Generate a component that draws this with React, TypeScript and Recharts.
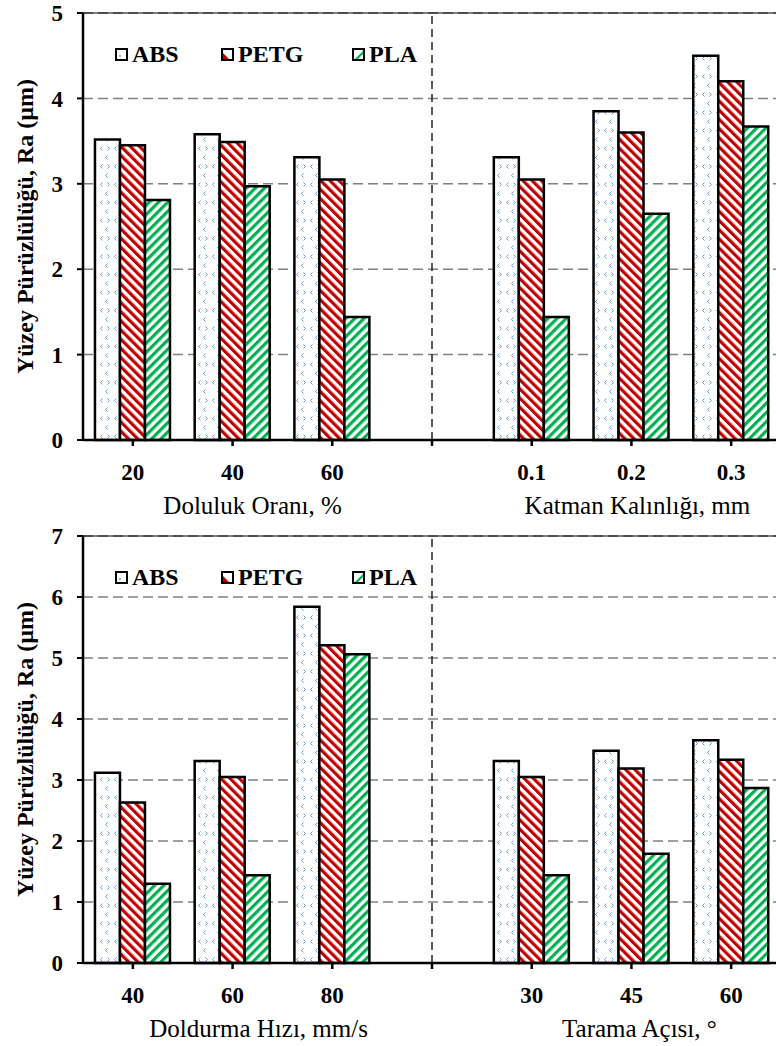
import React from 'react';
import { BarChart, Bar, XAxis, YAxis, CartesianGrid, ReferenceLine, Label } from 'recharts';

const FONT = '"Liberation Serif", "Times New Roman", serif';

const seriesNames = ['ABS', 'PETG', 'PLA'];
const yTitle = 'Yüzey Pürüzlülüğü, Ra (µm)';

// üst panel: doluluk oranı + katman kalınlığı
const topCategories = ['20', '40', '60', '', '0.1', '0.2', '0.3'];
const topGroups = ['Doluluk Oranı, %', 'Katman Kalınlığı, mm'];
const topAbs = [3.52, 3.58, 3.31, null, 3.31, 3.85, 4.5];
const topPetg = [3.45, 3.49, 3.05, null, 3.05, 3.6, 4.2];
const topPla = [2.81, 2.97, 1.44, null, 1.44, 2.65, 3.67];
const topTicks = [0, 1, 2, 3, 4, 5];

// alt panel: doldurma hızı + tarama açısı
const bottomCategories = ['40', '60', '80', '', '30', '45', '60'];
const bottomGroups = ['Doldurma Hızı, mm/s', 'Tarama Açısı, °'];
const bottomAbs = [3.12, 3.31, 5.84, null, 3.31, 3.48, 3.65];
const bottomPetg = [2.63, 3.05, 5.21, null, 3.05, 3.19, 3.33];
const bottomPla = [1.3, 1.44, 5.06, null, 1.44, 1.79, 2.87];
const bottomTicks = [0, 1, 2, 3, 4, 5, 6, 7];

const buildRows = (cats: string[], abs: (number | null)[], petg: (number | null)[], pla: (number | null)[]) =>
  cats.map((label, i) => ({ key: `c${i}`, label, ABS: abs[i], PETG: petg[i], PLA: pla[i] }));

const Patterns = () => (
  <svg width={0} height={0} style={{ position: 'absolute' }}>
    <defs>
      <pattern id="absPat" patternUnits="userSpaceOnUse" width={14} height={18}>
        <rect width={14} height={18} fill="#fff" />
        <polyline points="4.5,2.5 2.5,4.5 4.5,6.5" fill="none" stroke="#5b9bd5" strokeWidth={1} />
        <polyline points="9.5,2.5 11.5,4.5 9.5,6.5" fill="none" stroke="#5b9bd5" strokeWidth={1} />
        <polyline points="9.5,11.5 7.5,13.5 9.5,15.5" fill="none" stroke="#5b9bd5" strokeWidth={1} />
      </pattern>
      <pattern id="petgPat" patternUnits="userSpaceOnUse" width={6.5} height={6.5} patternTransform="rotate(-45)">
        <rect width={6.5} height={6.5} fill="#fff" />
        <rect width={3.2} height={6.5} fill="#c00000" />
      </pattern>
      <pattern id="plaPat" patternUnits="userSpaceOnUse" width={6.5} height={6.5} patternTransform="rotate(45)">
        <rect width={6.5} height={6.5} fill="#fff" />
        <rect width={3.2} height={6.5} fill="#00b050" />
      </pattern>
    </defs>
  </svg>
);

const Swatch = ({ name }: { name: string }) => (
  <svg width={13} height={13} style={{ display: 'block' }}>
    <rect x={1} y={1} width={11} height={11} fill="#fff" />
    {name === 'ABS' && <circle cx={5} cy={8} r={1} fill="#5b9bd5" />}
    {name === 'PETG' && <polygon points="1,4 1,12 9,12" fill="#c00000" />}
    {name === 'PLA' && <polygon points="2,12 5,12 12,5 12,2" fill="#00b050" />}
    <rect x={1} y={1} width={11} height={11} fill="none" stroke="#000" strokeWidth={2} />
  </svg>
);

const legendLeft = [115, 221, 352];

const LegendBox = ({ top }: { top: number }) => (
  <>
    {seriesNames.map((n, i) => (
      <div
        key={n}
        style={{
          position: 'absolute', left: legendLeft[i], top, display: 'flex', alignItems: 'center',
          fontFamily: FONT, fontWeight: 'bold', fontSize: 24, lineHeight: '25px', color: '#000',
        }}
      >
        <Swatch name={n} />
        <span style={{ marginLeft: 4 }}>{n}</span>
      </div>
    ))}
  </>
);

const makeXTick = (cats: string[], groups: string[], groupDx: number[]) => (props: any) => {
  const { x, y, payload } = props;
  const idx = payload?.index ?? props.index;
  const groupIdx = idx === 1 ? 0 : idx === 5 ? 1 : -1;
  return (
    <g>
      <text x={x} y={y + 32} textAnchor="middle" fontFamily={FONT} fontWeight="bold" fontSize={23} fill="#000">
        {cats[idx]}
      </text>
      {groupIdx >= 0 && (
        <text x={x + groupDx[groupIdx]} y={y + 66} textAnchor="middle" fontFamily={FONT} fontSize={25} fill="#000">
          {groups[groupIdx]}
        </text>
      )}
    </g>
  );
};

const yLabel = (props: any) => {
  const vb = props.viewBox || {};
  const cx = 25;
  const cy = vb.y + vb.height / 2;
  return (
    <text
      x={cx} y={cy} transform={`rotate(-90, ${cx}, ${cy})`} textAnchor="middle" dominantBaseline="central"
      fontFamily={FONT} fontWeight="bold" fontSize={24} fill="#000"
    >
      {yTitle}
    </text>
  );
};

type PanelProps = {
  top: number;
  cats: string[];
  groups: string[];
  groupDx: number[];
  abs: (number | null)[];
  petg: (number | null)[];
  pla: (number | null)[];
  ticks: number[];
};

const Panel = ({ top, cats, groups, groupDx, abs, petg, pla, ticks }: PanelProps) => {
  const rows = buildRows(cats, abs, petg, pla);
  const max = ticks[ticks.length - 1];
  return (
    <div style={{ position: 'absolute', left: 0, top, width: 800, height: 523 }}>
      <BarChart
        width={800}
        height={523}
        data={rows}
        margin={{ top: 13, right: 19, bottom: 0, left: 0 }}
        barCategoryGap="12%"
        barGap={0}
      >
        <CartesianGrid vertical={false} stroke="#808080" strokeDasharray="10 5" strokeWidth={1.5} />
        <ReferenceLine y={max} stroke="#000" strokeWidth={1.2} />
        <ReferenceLine x="c3" stroke="#222" strokeDasharray="8 5" strokeWidth={1.5} />
        <XAxis
          dataKey="key"
          interval={0}
          height={83}
          tickSize={6}
          axisLine={{ stroke: '#000', strokeWidth: 2.5 }}
          tickLine={{ stroke: '#000', strokeWidth: 2.5 }}
          tick={makeXTick(cats, groups, groupDx)}
        />
        <YAxis
          domain={[0, max]}
          ticks={ticks}
          width={83}
          tickSize={6}
          tickMargin={14}
          axisLine={{ stroke: '#000', strokeWidth: 2.5 }}
          tickLine={{ stroke: '#000', strokeWidth: 2 }}
          tick={{ fontFamily: FONT, fontWeight: 'bold', fontSize: 23, fill: '#000' }}
        >
          <Label content={yLabel} />
        </YAxis>
        <Bar dataKey="ABS" fill="url(#absPat)" stroke="#000" strokeWidth={2.5} isAnimationActive={false} />
        <Bar dataKey="PETG" fill="url(#petgPat)" stroke="#000" strokeWidth={2.5} isAnimationActive={false} />
        <Bar dataKey="PLA" fill="url(#plaPat)" stroke="#000" strokeWidth={2.5} isAnimationActive={false} />
      </BarChart>
      <LegendBox top={42} />
    </div>
  );
};

export default function App() {
  return (
    <div style={{ position: 'absolute', left: 0, top: 0, width: 776, height: 1046, overflow: 'hidden', background: '#fff' }}>
      <Patterns />
      <Panel
        top={0}
        cats={topCategories}
        groups={topGroups}
        groupDx={[20, 6]}
        abs={topAbs}
        petg={topPetg}
        pla={topPla}
        ticks={topTicks}
      />
      <Panel
        top={523}
        cats={bottomCategories}
        groups={bottomGroups}
        groupDx={[26, 8]}
        abs={bottomAbs}
        petg={bottomPetg}
        pla={bottomPla}
        ticks={bottomTicks}
      />
    </div>
  );
}
